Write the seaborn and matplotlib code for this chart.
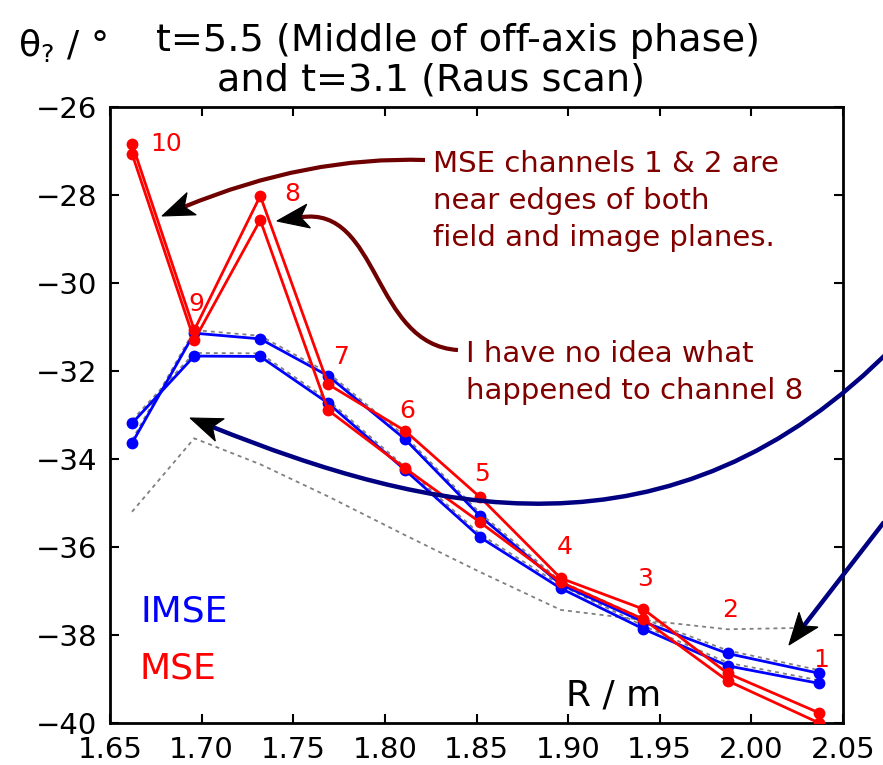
import numpy as np
import pandas as pd
import matplotlib
matplotlib.use("Agg")
import matplotlib.pyplot as plt
import seaborn as sns
from matplotlib.path import Path
from matplotlib.patches import PathPatch, Polygon
from matplotlib.ticker import FormatStrFormatter

# MSE channel numbers and their major radius (m), outermost channel last
channels = [10, 9, 8, 7, 6, 5, 4, 3, 2, 1]
radius_m = [1.662, 1.696, 1.732, 1.769, 1.811, 1.852, 1.896, 1.941, 1.987, 2.037]

# pitch angle (deg) at the two times
imse_t55 = [-33.64, -31.14, -31.27, -32.11, -33.55, -35.30, -36.85, -37.70, -38.42, -38.87]
imse_t31 = [-33.19, -31.66, -31.67, -32.73, -34.25, -35.78, -36.94, -37.86, -38.70, -39.10]
mse_t55 = [-26.83, -31.07, -28.02, -32.30, -33.36, -34.87, -36.71, -37.41, -38.87, -39.77]
mse_t31 = [-27.06, -31.30, -28.57, -32.89, -34.21, -35.44, -36.80, -37.64, -39.04, -40.00]

# IMSE forward-model curves (grey dotted)
model_t55 = [-33.57, -31.07, -31.20, -32.04, -33.48, -35.23, -36.78, -37.63, -38.35, -38.80]
model_t31 = [-33.12, -31.59, -31.60, -32.66, -34.18, -35.71, -36.87, -37.79, -38.63, -39.03]
model_raw = [-35.20, -33.53, -34.12, -34.85, -35.73, -36.57, -37.43, -37.66, -37.87, -37.83]

xticks = [1.65, 1.70, 1.75, 1.80, 1.85, 1.90, 1.95, 2.00, 2.05]
yticks = [-40, -38, -36, -34, -32, -30, -28, -26]

sns.set_style("ticks")
plt.rcParams["font.family"] = ["DejaVu Sans"]
plt.rcParams.update({
    "xtick.direction": "in", "ytick.direction": "in",
    "xtick.top": True, "ytick.right": True,
    "xtick.major.size": 6.5, "ytick.major.size": 6.5,
    "xtick.major.width": 1.5, "ytick.major.width": 1.5,
    "xtick.color": "black", "ytick.color": "black",
    "text.color": "black", "axes.labelcolor": "black",
    "axes.linewidth": 2.0, "axes.edgecolor": "black",
})

W, H = 883, 765
fig = plt.figure(figsize=(W / 100, H / 100), dpi=100)
ax = fig.add_axes([110 / W, 42 / H, 733 / W, 616 / H])

df = pd.DataFrame({"R": radius_m})
dot = dict(color="#808080", lw=1.3, linestyle=(0, (2.2, 2.2)))
for vals in (model_t55, model_t31, model_raw):
    sns.lineplot(x=df["R"], y=vals, ax=ax, estimator=None, sort=False,
                 legend=False, zorder=1, **dot)

mk = dict(marker="o", markersize=8.5, markeredgewidth=0, lw=2.0,
          estimator=None, sort=False, legend=False)
for vals in (imse_t55, imse_t31):
    sns.lineplot(x=df["R"], y=vals, ax=ax, color="#0000ff", zorder=3, **mk)
for vals in (mse_t55, mse_t31):
    sns.lineplot(x=df["R"], y=vals, ax=ax, color="#ff0000", zorder=4, **mk)

ax.set_xlim(1.65, 2.05)
ax.set_ylim(-40, -26)
ax.set_xticks(xticks)
ax.set_yticks(yticks)
ax.xaxis.set_major_formatter(FormatStrFormatter("%.2f"))
ax.tick_params(labelsize=21, pad=9, labelcolor="black")
ax.set_xlabel("")
ax.set_ylabel("")

# channel numbers beside the MSE points (offsets in pixels)
label_offsets = [(34, 0), (2, 26), (32, 2), (14, 27), (2, 20),
                 (2, 23), (4, 31), (2, 30), (3, 63), (2, 53)]
for ch, r, v, off in zip(channels, radius_m, mse_t55, label_offsets):
    ax.annotate(str(ch), xy=(r, v), xytext=off, textcoords="offset pixels",
                color="#ff0000", fontsize=18, ha="center", va="center", zorder=6)

ax.text(1.6664, -37.70, "IMSE", color="#0000ff", fontsize=26, va="baseline")
ax.text(1.6660, -38.98, "MSE", color="#ff0000", fontsize=26, va="baseline")
ax.text(1.8988, -39.61, "R / m", color="black", fontsize=26, va="baseline")

note = "#800000"
ax.text(1.8262, -28.14, "MSE channels 1 & 2 are\nnear edges of both\nfield and image planes.",
        color=note, fontsize=21, va="center", ha="left", linespacing=1.42)
ax.text(1.8441, -32.03, "I have no idea what\nhappened to channel 8",
        color=note, fontsize=21, va="center", ha="left", linespacing=1.38)


def head_and_shaft(pts, codes, color, lw, L=32, Wd=24, notch=8):
    """Draw a curved shaft and a black notched arrow head at its last point."""
    disp = ax.transData.transform(np.array(pts))
    tip, prev = disp[-1], disp[-2]
    d = (tip - prev) / np.linalg.norm(tip - prev)
    n = np.array([-d[1], d[0]])
    inv = ax.transData.inverted()
    shaft = np.array(disp)
    shaft[-1] = tip - d * (L - notch)
    ax.add_patch(PathPatch(Path(inv.transform(shaft), codes), fill=False,
                           edgecolor=color, lw=lw, capstyle="butt",
                           clip_on=False, zorder=7))
    head = np.array([tip, tip - d * L + n * Wd / 2, tip - d * (L - notch),
                     tip - d * L - n * Wd / 2])
    ax.add_patch(Polygon(inv.transform(head), closed=True, facecolor="black",
                         edgecolor="black", lw=0.8, clip_on=False, zorder=8))


C3 = [Path.MOVETO, Path.CURVE3, Path.CURVE3]
C4 = [Path.MOVETO, Path.CURVE4, Path.CURVE4, Path.CURVE4]
head_and_shaft([(1.8219, -27.205), (1.7575, -27.114), (1.6784, -28.477)], C3, "#6e0000", 3.0)
head_and_shaft([(1.8399, -31.523), (1.7930, -31.409), (1.7973, -28.227), (1.7411, -28.591)],
               C4, "#6e0000", 3.0)
head_and_shaft([(2.0784, -31.409), (1.9564, -36.614), (1.8213, -35.195), (1.6937, -33.068)],
               C4, "#000080", 3.2)
head_and_shaft([(2.0838, -34.818), (2.0205, -38.227)], [Path.MOVETO, Path.LINETO],
               "#000080", 3.2)

fig.text(458 / W, 1 - 51 / H, "t=5.5 (Middle of off-axis phase)", fontsize=27.5,
         ha="center", va="baseline")
fig.text(431 / W, 1 - 91 / H, "and t=3.1 (Raus scan)", fontsize=27.5,
         ha="center", va="baseline")
fig.text(18 / W, 1 - 56 / H, "θ$_?$ / °", fontsize=26, ha="left", va="baseline")

fig.savefig("out.png", dpi=100)
